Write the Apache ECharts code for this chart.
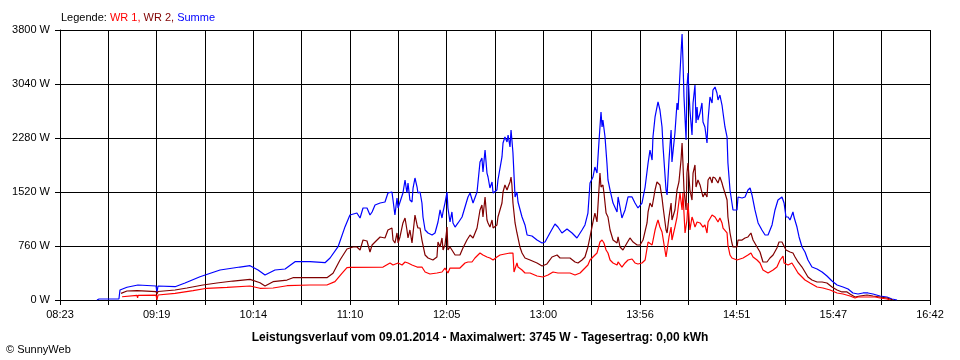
<!DOCTYPE html>
<html>
<head>
<meta charset="utf-8">
<script src="https://cdn.jsdelivr.net/npm/echarts@6/dist/echarts.min.js"></script>
<style>
html,body{margin:0;padding:0;background:#fff;}
#c{width:960px;height:360px;}
</style>
</head>
<body>
<div id="c"></div>
<script>
// Time axis: minutes after 08:23 (axis spans 08:23 .. 16:42 = 499 min, 18 grid steps)
const xTickLabels = ['08:23','09:19','10:14','11:10','12:05','13:00','13:56','14:51','15:47','16:42'];
const yTicks = [0, 760, 1520, 2280, 3040, 3800];

// WR 1 (red)
const wr1T = [35.6,44.2,44.5,44.8,55.1,55.6,56.2,66.0,76.3,84.3,95.8,109.0,114.7,122.2,130.2,143.4,153.1,157.7,161.7,164.6,166.3,185.3,189.3,191.0,193.9,196.2,197.9,199.6,201.9,204.8,207.6,209.4,212.2,216.2,219.1,220.8,222.5,223.7,226.6,229.4,232.3,234.0,236.3,238.0,240.9,242.6,244.9,246.6,248.4,250.6,252.4,255.2,258.1,259.8,260.4,261.0,262.1,262.7,265.0,266.7,269.6,273.6,277.0,279.9,282.8,285.6,288.5,292.5,295.4,298.3,301.1,302.8,304.0,305.7,308.0,309.7,310.9,312.0,313.2,314.3,315.5,317.2,319.5,320.1,322.3,324.1,325.8,328.1,329.8,331.5,333.8,335.6,337.3,338.4,339.6,341.3,342.4,343.0,344.1,345.3,345.9,347.6,348.2,349.3,350.5,351.0,352.7,353.9,355.6,356.8,357.3,358.5,359.6,360.2,361.3,362.5,363.1,364.2,365.4,367.1,368.2,368.8,369.9,371.1,371.7,374.0,375.7,376.8,377.4,378.5,379.7,380.3,381.4,382.6,383.1,384.3,385.4,388.3,388.9,391.8,394.6,396.3,397.5,399.8,401.5,403.2,406.1,409.0,411.2,413.0,414.7,415.3,417.6,419.8,421.6,423.3,425.6,427.3,430.2,434.2,437.6,441.7,445.7,449.1,453.1,456.0,457.7,460.6,463.4,467.5,470.3,474.3,476.0];
const wr1V = [46,66,28,66,70,0,70,94,131,165,179,197,165,169,201,211,211,258,376,455,460,464,521,493,521,493,535,521,493,464,464,394,366,380,394,450,380,450,450,450,521,535,535,591,661,633,605,591,563,605,633,647,661,661,394,380,521,464,422,380,380,338,324,352,394,380,380,380,352,380,450,493,563,605,661,816,844,802,704,661,563,521,493,535,464,521,563,577,521,507,521,563,816,844,774,985,1084,1126,1027,957,943,605,591,887,1027,844,1027,1168,1506,1267,1506,943,1126,1365,985,1168,1126,1027,1098,1084,1084,1027,1056,943,1098,1196,1168,1154,1098,1154,1084,1013,985,943,774,633,591,563,591,591,633,661,605,563,521,422,380,422,464,563,619,521,493,521,450,380,324,281,239,183,169,141,99,84,56,28,42,42,42,42,28,14,0];

// WR 2 (dark red)
const wr2T = [35.0,36.1,38.4,44.2,55.1,55.6,56.2,66.0,72.8,82.0,90.0,99.2,109.0,114.7,117.6,122.2,130.2,133.6,143.4,153.1,156.6,160.6,164.6,168.1,170.3,172.1,173.8,176.1,177.8,179.0,180.7,183.6,186.4,188.1,190.4,191.0,192.1,193.3,193.9,195.0,196.7,197.9,199.0,199.6,200.7,201.9,202.5,203.6,204.8,205.3,206.5,207.6,209.4,211.1,213.9,216.2,216.8,218.0,219.1,219.7,220.8,222.0,222.5,223.7,224.8,226.6,229.4,231.1,233.4,235.2,236.9,239.2,240.9,242.0,242.6,243.8,244.9,245.5,246.6,247.8,248.4,249.5,250.6,251.2,253.5,254.1,255.2,256.4,257.0,258.1,258.7,259.2,259.8,261.0,262.1,262.7,263.8,265.0,266.7,269.6,273.6,276.5,279.3,282.2,285.1,286.8,289.7,292.5,295.4,297.1,299.4,301.1,302.8,304.0,305.7,306.8,308.0,309.7,310.3,311.4,312.0,313.2,314.3,315.5,317.2,319.5,320.1,321.2,322.9,325.2,326.9,328.7,331.0,332.7,334.4,336.7,337.3,338.4,339.6,341.3,342.4,344.1,345.3,345.9,347.6,348.2,349.3,350.5,351.0,352.7,353.9,355.0,356.2,356.8,357.3,357.9,359.1,359.6,360.2,361.3,362.5,363.1,364.2,364.8,365.9,367.1,368.2,368.8,369.9,371.1,371.7,372.8,374.0,374.5,375.7,376.8,377.4,378.5,379.7,380.3,381.4,382.6,383.1,384.3,385.4,386.0,388.3,388.9,391.2,392.9,394.6,396.3,397.5,399.8,401.5,403.2,405.5,407.2,409.0,411.2,412.4,414.1,414.7,416.4,418.7,420.4,421.6,423.3,425.6,427.3,429.0,431.3,434.2,437.1,439.9,442.8,445.7,448.5,451.4,453.1,456.0,458.8,462.9,466.3,470.3,474.3,476.0,477.8];
const wr2V = [94,117,127,131,117,84,120,141,169,211,239,267,291,243,197,258,281,314,314,314,376,563,718,746,746,704,844,830,676,774,816,887,873,985,1013,844,802,943,802,887,1084,1154,985,873,985,802,943,1196,1056,1013,1013,844,633,591,563,605,816,746,873,704,774,1027,704,746,704,633,633,732,844,915,873,1013,1267,1337,1168,1450,1126,1084,1027,1126,1013,985,1056,1168,1365,1520,1619,1548,1590,1661,1731,1619,1365,1084,943,915,746,661,591,563,521,479,507,605,633,591,591,591,535,521,563,605,746,887,1098,1224,1098,1787,1590,1619,1506,1224,1168,985,844,802,887,746,704,802,873,816,774,774,844,1084,1239,1365,1309,1548,1661,1619,1436,1309,985,943,1168,1365,1126,1267,1548,1661,1970,2210,1928,1548,1267,1787,1928,1548,1407,1787,1900,1590,1689,1619,1647,1450,1506,1450,1689,1731,1647,1731,1717,1717,1647,1731,1647,1590,1506,1407,1168,943,802,746,746,844,844,873,887,943,844,746,676,535,535,591,633,732,816,816,802,704,676,661,605,535,464,394,324,281,253,253,239,183,141,113,113,84,42,56,70,56,42,28,14,0];

// Summe (blue)
const sumT = [21.2,22.4,33.8,34.4,38.4,44.7,55.1,55.6,56.2,66.0,71.7,80.3,91.8,103.2,109.0,113.6,117.6,123.3,129.1,134.8,143.4,152.0,154.9,159.5,163.5,166.3,170.3,172.1,173.8,176.1,177.8,179.0,180.7,183.6,186.4,188.1,190.4,191.0,192.1,193.3,193.9,195.0,196.7,197.9,199.0,199.6,200.7,201.9,202.5,203.6,204.8,205.3,206.5,207.6,208.2,209.4,211.1,213.4,215.1,216.8,218.0,219.1,219.7,220.8,222.0,222.5,223.7,224.8,225.4,226.6,228.3,230.6,232.3,234.0,235.2,236.9,239.2,240.9,242.0,242.6,243.8,244.9,245.5,246.6,247.8,248.4,249.5,250.6,251.2,253.5,254.1,255.2,256.4,257.0,258.1,258.7,259.2,259.8,261.0,262.1,262.7,263.8,265.0,266.7,267.9,270.7,273.6,276.5,278.2,281.0,283.9,285.6,287.9,290.8,293.7,296.5,299.4,301.1,302.8,304.0,305.7,306.8,308.0,309.2,310.3,310.9,311.4,312.6,313.7,314.3,315.5,317.2,319.5,320.1,321.2,322.3,324.1,325.8,328.1,329.8,331.5,333.8,335.6,337.3,338.4,339.6,340.1,341.3,342.4,343.0,344.1,345.3,345.9,347.6,348.2,349.3,350.5,351.0,352.7,353.9,354.5,355.6,356.8,357.3,357.9,359.1,359.6,360.2,361.3,362.5,363.1,364.2,364.8,365.4,365.9,367.1,368.2,368.8,369.9,371.1,371.7,372.8,374.0,374.5,375.7,376.8,377.4,378.5,379.7,380.3,381.4,382.6,383.1,384.3,385.4,386.0,388.3,388.9,391.2,392.9,394.6,395.8,396.9,398.6,400.4,402.6,404.4,406.1,408.4,410.1,411.8,414.1,415.3,416.4,417.6,418.7,420.4,421.0,422.7,423.9,425.6,427.3,429.0,431.3,434.2,437.1,439.9,442.8,445.7,449.1,452.0,454.8,457.7,460.6,463.4,466.3,470.3,474.3,477.2,480.1];
const sumV = [0,14,14,141,179,211,197,99,197,187,239,328,422,464,483,422,352,422,436,539,539,525,591,750,1032,1196,1224,1154,1295,1295,1196,1239,1337,1365,1379,1506,1520,1407,1196,1436,1295,1309,1506,1689,1506,1647,1407,1379,1576,1717,1590,1506,1520,1365,1168,985,943,915,943,1098,1267,1154,1239,1365,1520,1295,1098,1239,1084,1027,1084,1168,1309,1450,1506,1365,1520,1942,1999,1801,2111,1787,1731,1576,1661,1506,1478,1548,1689,2013,2210,2294,2224,2322,2153,2393,2252,2069,1450,1520,1379,1365,1168,1056,915,901,844,802,816,943,1070,1027,943,999,943,873,985,1056,1224,1647,1731,1872,1787,2252,2646,2435,2533,2294,1928,1689,1548,1365,1239,1450,1309,1154,1267,1450,1450,1365,1295,1365,1590,1928,2111,1970,2294,2576,2716,2787,2674,2435,2153,1548,1478,1970,2393,1942,2350,2773,2674,3195,3745,3378,2857,2252,2998,3195,2674,2322,2773,3026,2491,2716,2533,2632,2773,2505,2435,2210,2533,2857,2773,2955,2998,2913,2815,2885,2744,2632,2435,2294,1928,1548,1365,1267,1267,1450,1436,1450,1548,1576,1478,1267,1084,985,915,915,1056,1267,1407,1450,1365,1168,1168,1126,1239,1168,1027,887,746,676,563,464,436,394,338,267,211,183,155,99,84,99,99,84,56,42,14,0];

const SPAN = 499;
const STEP = SPAN / 18;

function pairs(t, v) { return t.map((x, i) => [x, v[i]]); }

const chart = echarts.init(document.getElementById('c'), null, {renderer: 'canvas'});
const FONT = '"Liberation Sans", Arial, sans-serif';

chart.setOption({
  animation: false,
  backgroundColor: '#ffffff',
  textStyle: {fontFamily: FONT},
  title: [
    {
      left: 56, top: 7,
      text: '{k|Legende: }{a|WR 1, }{b|WR 2, }{c|Summe}',
      textStyle: {
        fontSize: 11, fontWeight: 'normal', fontFamily: FONT,
        rich: {
          k: {color: '#000000', fontSize: 11, fontFamily: FONT},
          a: {color: '#ff0000', fontSize: 11, fontFamily: FONT},
          b: {color: '#800000', fontSize: 11, fontFamily: FONT},
          c: {color: '#0000ff', fontSize: 11, fontFamily: FONT}
        }
      }
    },
    {
      left: 'center', top: 327,
      text: 'Leistungsverlauf vom 09.01.2014 - Maximalwert: 3745 W - Tagesertrag: 0,00 kWh',
      textStyle: {fontSize: 12, fontWeight: 'bold', color: '#000', fontFamily: FONT}
    },
    {
      left: 1, top: 339,
      text: '\u00a9 SunnyWeb',
      textStyle: {fontSize: 11, fontWeight: 'normal', color: '#000', fontFamily: FONT}
    }
  ],
  grid: {left: 60, right: 30, top: 30, bottom: 60, containLabel: false},
  xAxis: {
    type: 'value', min: 0, max: SPAN, interval: STEP,
    axisLine: {show: true, lineStyle: {color: '#000', width: 1}},
    axisTick: {show: true, length: 5, lineStyle: {color: '#000', width: 1}},
    splitLine: {show: true, lineStyle: {color: '#000', width: 1}},
    axisLabel: {
      color: '#000', fontSize: 11, margin: 9, fontFamily: FONT,
      showMinLabel: true, showMaxLabel: true,
      formatter: function (v) {
        const i = Math.round(v / STEP);
        return (i % 2 === 0) ? (xTickLabels[i / 2] || '') : '';
      }
    }
  },
  yAxis: {
    type: 'value', min: yTicks[0], max: yTicks[yTicks.length - 1], interval: yTicks[1] - yTicks[0],
    axisLine: {show: true, lineStyle: {color: '#000', width: 1}},
    axisTick: {show: true, length: 5, lineStyle: {color: '#000', width: 1}},
    splitLine: {show: true, lineStyle: {color: '#000', width: 1}},
    axisLabel: {
      color: '#000', fontSize: 11, margin: 10, fontFamily: FONT,
      formatter: function (v) { return v + ' W'; }
    }
  },
  series: [
    {name: 'Summe', type: 'line', data: pairs(sumT, sumV), showSymbol: false, symbol: 'none',
     lineStyle: {color: '#0000ff', width: 1.2}, itemStyle: {color: '#0000ff'}},
    {name: 'WR 2', type: 'line', data: pairs(wr2T, wr2V), showSymbol: false, symbol: 'none',
     lineStyle: {color: '#800000', width: 1.2}, itemStyle: {color: '#800000'}},
    {name: 'WR 1', type: 'line', data: pairs(wr1T, wr1V), showSymbol: false, symbol: 'none',
     lineStyle: {color: '#ff0000', width: 1.2}, itemStyle: {color: '#ff0000'}}
  ]
});
</script>
</body>
</html>
